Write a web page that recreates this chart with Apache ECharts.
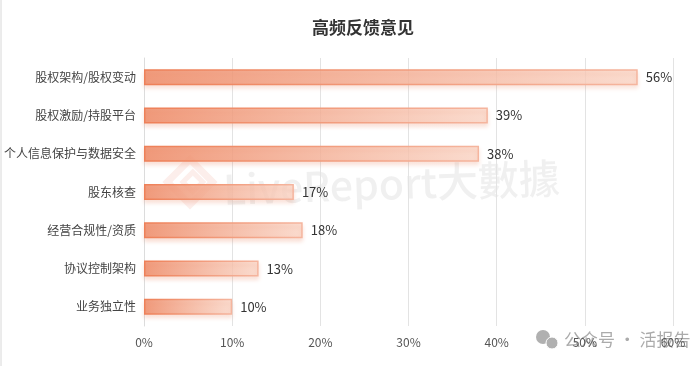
<!DOCTYPE html>
<html>
<head>
<meta charset="utf-8">
<script src="https://cdn.jsdelivr.net/npm/echarts@6/dist/echarts.min.js"></script>
<style>html,body{margin:0;padding:0;background:#fff}#c{width:700px;height:366px}</style>
</head>
<body>
<div id="c"></div>
<script>
const titleText = '高频反馈意见';
const categories = ['股权架构/股权变动','股权激励/持股平台','个人信息保护与数据安全','股东核查','经营合规性/资质','协议控制架构','业务独立性'];
const values = [56, 39, 38, 17, 18, 13, 10];
const watermark1 = 'LiveReport大數據';
const watermark2 = '公众号 · 活报告';

const chart = echarts.init(document.getElementById('c'), null, {renderer: 'canvas'});
const font = '"Microsoft YaHei","Noto Sans CJK SC",sans-serif';
chart.setOption({
  backgroundColor: '#fff',
  animation: false,
  title: {
    text: titleText, left: 358, top: 14, textAlign: 'center',
    textStyle: {fontSize: 17, fontWeight: 'bold', color: '#333', fontFamily: font}
  },
  grid: {left: 144, right: 27, top: 58, bottom: 40, containLabel: false},
  xAxis: {
    type: 'value', min: 0, max: 60, interval: 10,
    axisLabel: {formatter: '{value}%', color: '#555', fontSize: 12, fontFamily: font, margin: 10},
    axisLine: {show: false}, axisTick: {show: false},
    splitLine: {show: true, lineStyle: {color: '#e3e3e3', width: 1}}
  },
  yAxis: {
    type: 'category', data: categories, inverse: true,
    axisLabel: {color: '#444', fontSize: 12, fontFamily: font, margin: 8},
    axisLine: {show: true, lineStyle: {color: '#dcdcdc'}}, axisTick: {show: false}
  },
  series: [{
    type: 'bar', data: values, barWidth: 16,
    itemStyle: {
      color: new echarts.graphic.LinearGradient(0, 0, 1, 0, [
        {offset: 0, color: 'rgba(238,140,105,0.85)'},
        {offset: 1, color: 'rgba(250,215,200,0.75)'}
      ]),
      borderColor: new echarts.graphic.LinearGradient(0, 0, 1, 0, [
        {offset: 0, color: '#ee8058'},
        {offset: 1, color: '#f5b59e'}
      ]),
      borderWidth: 1.5,
      shadowColor: 'rgba(230,120,80,0.25)', shadowBlur: 4, shadowOffsetY: 3
    },
    label: {
      show: true, position: 'right', formatter: '{c}%', distance: 8,
      color: '#333', fontSize: 13, fontFamily: font
    }
  }],
  graphic: [
    {type: 'line', shape: {x1: 1, y1: 0, x2: 1, y2: 366}, style: {stroke: '#d8d8d8', lineWidth: 1}, silent: true},
    {type: 'text', x: 224, y: 210, rotation: 0.035, silent: true, z: -1,
      style: {text: watermark1, fill: 'rgba(120,120,120,0.11)', font: '500 41px "Noto Sans CJK SC",sans-serif', textVerticalAlign: 'bottom'}},
    {type: 'group', x: 190, y: 182, rotation: Math.PI/4, silent: true, z: -1, children: [
      {type: 'rect', shape: {x: -16, y: -16, width: 32, height: 32}, style: {fill: 'none', stroke: 'rgba(235,120,100,0.13)', lineWidth: 7}},
      {type: 'rect', shape: {x: -5, y: -5, width: 14, height: 14}, style: {fill: 'none', stroke: 'rgba(235,120,100,0.13)', lineWidth: 5}}
    ]},
    {type: 'circle', shape: {cx: 543, cy: 337, r: 7}, style: {fill: '#b0b0b0'}, silent: true},
    {type: 'circle', shape: {cx: 552, cy: 343, r: 6}, style: {fill: '#b0b0b0', stroke: '#fff', lineWidth: 1}, silent: true},
    {type: 'text', x: 564, y: 340, silent: true,
      style: {text: watermark2, fill: '#ababab', font: '17px "Noto Sans CJK SC",sans-serif', textVerticalAlign: 'middle'}}
  ]
});
</script>
</body>
</html>
